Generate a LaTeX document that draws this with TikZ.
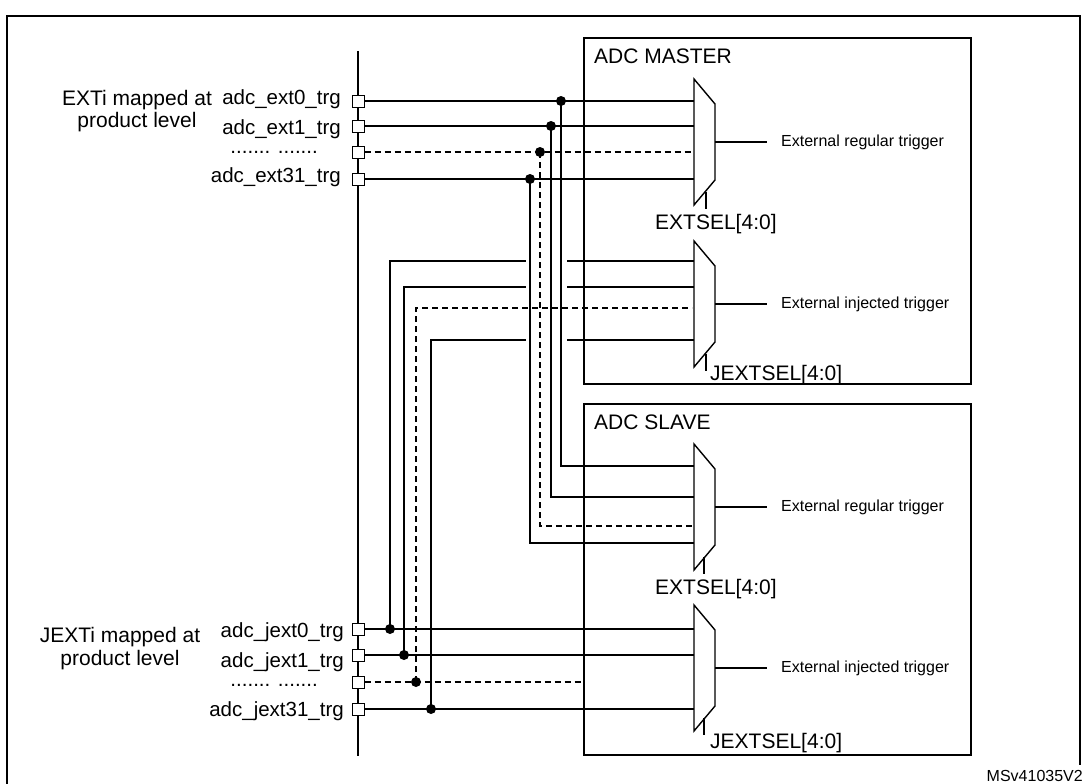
\documentclass[tikz,border=0pt]{standalone}
\usepackage{fontspec}
\setmainfont{Liberation Sans}
\tikzset{
	port/.style = {
		rectangle,
		draw=black,
		fill=white,
		line width=1pt,
		minimum size=12pt,
		inner sep=0pt
	},
	joint/.style = {
		circle,
		fill=black,
		minimum size=10pt,
		inner sep=0pt
	},
	wire/.style = {
		line width=1.4pt
	},
	wire_dash/.style = {
		wire,
		dash pattern=on 6pt off 4pt
	},
	box/.style = {
		line width=2.6pt
	},
	mux/.style = {
		line width=1.4pt,
		fill=white
	},
	sig_text/.style = {
		font=\fontsize{20.5}{22}\selectfont,
		inner sep=0pt,
		anchor=base east
	},
	big_text/.style = {
		font=\fontsize{21}{22.5}\selectfont,
		inner sep=0pt,
		align=center
	},
	trig_text/.style = {
		font=\fontsize{16}{18}\selectfont,
		inner sep=0pt,
		anchor=west
	},
}
\begin{document}
\begin{tikzpicture}[x=1pt, y=-1pt]
\useasboundingbox (0,0) rectangle (1087,784);
% outer frame
\draw[line width=1.8pt] (7,784) -- (7,16) -- (1080,16) -- (1080,765);
% adc blocks
\draw[box] (584,38) rectangle (971,384);
\draw[box] (584,404) rectangle (971,755);
\node[big_text, anchor=base west] (master) at (594,63.5) {ADC MASTER};
\node[big_text, anchor=base west] (slave) at (594,429.5) {ADC SLAVE};
% trigger bus
\coordinate (bus_top) at (358,51);
\coordinate (bus_bot) at (358,756);
\draw[line width=2.6pt] (bus_top) -- (bus_bot);
% ports
\node[port] (pe0) at (358,101) {};
\node[port] (pe1) at (358,126) {};
\node[port] (pe2) at (358,152) {};
\node[port] (pe31) at (358,179) {};
\node[port] (pj0) at (358,629) {};
\node[port] (pj1) at (358,655) {};
\node[port] (pj2) at (358,682) {};
\node[port] (pj31) at (358,709) {};
\node[sig_text] (le0) at (341,104) {adc\_ext0\_trg};
\node[sig_text] (le1) at (341,134) {adc\_ext1\_trg};
\node[sig_text] (le2) at (318,153) {....... .......};
\node[sig_text] (le31) at (341,182) {adc\_ext31\_trg};
\node[sig_text] (lj0) at (344,637) {adc\_jext0\_trg};
\node[sig_text] (lj1) at (344,667) {adc\_jext1\_trg};
\node[sig_text] (lj2) at (318,686) {....... .......};
\node[sig_text] (lj31) at (344,716) {adc\_jext31\_trg};
\node[big_text, anchor=base] (exti) at (137,127.5) {EXTi mapped at\\product level};
\node[big_text, anchor=base] (jexti) at (120,665) {JEXTi mapped at\\product level};
% mux inputs
\coordinate (mr_in0) at (694,101);
\coordinate (mr_in1) at (694,126);
\coordinate (mr_in2) at (692,152);
\coordinate (mr_in31) at (694,179);
\coordinate (mi_in0) at (694,261);
\coordinate (mi_in1) at (694,287);
\coordinate (mi_in2) at (692,308);
\coordinate (mi_in31) at (694,340);
\coordinate (sr_in0) at (694,466);
\coordinate (sr_in1) at (694,497);
\coordinate (sr_in2) at (692,526);
\coordinate (sr_in31) at (694,543);
\coordinate (si_in0) at (694,629);
\coordinate (si_in1) at (694,655);
\coordinate (si_in2) at (584,682);
\coordinate (si_in31) at (694,709);
% line jumps in front of the master injected mux
\coordinate (gap0_l) at (526,261);
\coordinate (gap0_r) at (567,261);
\coordinate (gap1_l) at (526,287);
\coordinate (gap1_r) at (567,287);
\coordinate (gap31_l) at (526,340);
\coordinate (gap31_r) at (567,340);
% regular triggers
\draw[wire] (pe0.east) -- (mr_in0);
\draw[wire] (pe1.east) -- (mr_in1);
\draw[wire_dash] (pe2.east) -- (mr_in2);
\draw[wire] (pe31.east) -- (mr_in31);
\node[joint] (de0) at (561,101) {};
\node[joint] (de1) at (551,126) {};
\node[joint] (de2) at (540,152) {};
\node[joint] (de31) at (530,179) {};
\draw[wire] (de0.center) |- (sr_in0);
\draw[wire] (de1.center) |- (sr_in1);
\draw[wire_dash] (de2.center) |- (sr_in2);
\draw[wire] (de31.center) |- (sr_in31);
% injected triggers
\draw[wire] (pj0.east) -- (si_in0);
\draw[wire] (pj1.east) -- (si_in1);
\draw[wire_dash] (pj2.east) -- (si_in2);
\draw[wire] (pj31.east) -- (si_in31);
\node[joint] (dj0) at (390,629) {};
\node[joint] (dj1) at (404,655) {};
\node[joint] (dj2) at (416,682) {};
\node[joint] (dj31) at (431,709) {};
\draw[wire] (dj0.center) |- (gap0_l);
\draw[wire] (gap0_r) -- (mi_in0);
\draw[wire] (dj1.center) |- (gap1_l);
\draw[wire] (gap1_r) -- (mi_in1);
\draw[wire_dash] (dj2.center) |- (mi_in2);
\draw[wire] (dj31.center) |- (gap31_l);
\draw[wire] (gap31_r) -- (mi_in31);
% multiplexers
\draw[mux] (694,79) coordinate (mr) -- (715,104) -- (715,180) -- (694,205) -- cycle;
\draw[mux] (694,241) coordinate (mi) -- (715,266) -- (715,342) -- (694,367) -- cycle;
\draw[mux] (694,444) coordinate (sr) -- (715,469) -- (715,545) -- (694,570) -- cycle;
\draw[mux] (694,605) coordinate (si) -- (715,630) -- (715,706) -- (694,731) -- cycle;
% mux outputs
\coordinate (mr_out) at (715,142);
\coordinate (mi_out) at (715,304);
\coordinate (sr_out) at (715,507);
\coordinate (si_out) at (715,668);
\node[trig_text] (mr_trig) at (781,142) {External regular trigger};
\node[trig_text] (mi_trig) at (781,304) {External injected trigger};
\node[trig_text] (sr_trig) at (781,507) {External regular trigger};
\node[trig_text] (si_trig) at (781,668) {External injected trigger};
\draw[wire] (mr_out) -- ++(52,0);
\draw[wire] (mi_out) -- ++(52,0);
\draw[wire] (sr_out) -- ++(52,0);
\draw[wire] (si_out) -- ++(52,0);
% select inputs
\draw[wire] (706,192) -- (706,209);
\draw[wire] (706,354) -- (706,371);
\draw[wire] (704,557) -- (704,574);
\draw[wire] (704,718) -- (704,735);
\node[big_text, anchor=base west] (mr_sel) at (655,229.5) {EXTSEL[4:0]};
\node[big_text, anchor=base west] (mi_sel) at (710,380) {JEXTSEL[4:0]};
\node[big_text, anchor=base west] (sr_sel) at (655,594.5) {EXTSEL[4:0]};
\node[big_text, anchor=base west] (si_sel) at (710,748) {JEXTSEL[4:0]};
\node[trig_text, anchor=base east] (ref) at (1083,781) {MSv41035V2};
\end{tikzpicture}
\end{document}
